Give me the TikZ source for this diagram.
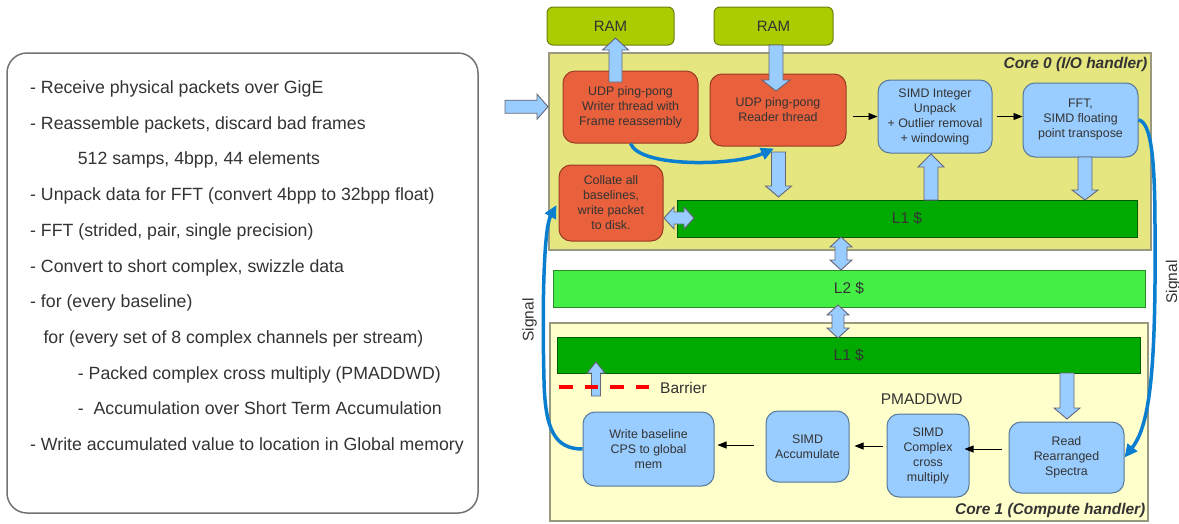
\documentclass[tikz,border=0pt]{standalone}
\usepackage{fontspec}
\setmainfont{Liberation Sans}
\usetikzlibrary{arrows.meta,calc}
\definecolor{txt}{HTML}{333333}
\definecolor{ramfill}{HTML}{AACC00}
\definecolor{ramdraw}{HTML}{6E7F10}
\definecolor{corezero}{HTML}{E6E680}
\definecolor{coreone}{HTML}{FFFFCC}
\definecolor{coredraw}{HTML}{999980}
\definecolor{orng}{HTML}{E8603C}
\definecolor{orngd}{HTML}{9A3A22}
\definecolor{lblue}{HTML}{99CCFF}
\definecolor{lblued}{HTML}{557799}
\definecolor{lone}{HTML}{00AA00}
\definecolor{loned}{HTML}{005A00}
\definecolor{ltwo}{HTML}{44EE44}
\definecolor{ltwod}{HTML}{2A8A2A}
\definecolor{sigblue}{HTML}{0A7FD0}
\definecolor{blkdraw}{HTML}{666677}
\newcommand\barrow[6]{\draw[blk,shift={#1},rotate=#2] (0,-#4) -- ({#3-#6},-#4) -- ({#3-#6},-#5) -- (#3,0) -- ({#3-#6},#5) -- ({#3-#6},#4) -- (0,#4) -- cycle;}
\newcommand\dbarrow[3]{\draw[blk,shift={#1},rotate=#2] (0,0) -- (10,-11) -- (10,-6) -- ({#3-10},-6) -- ({#3-10},-11) -- (#3,0) -- ({#3-10},11) -- ({#3-10},6) -- (10,6) -- (10,11) -- cycle;}
\begin{document}
\begin{tikzpicture}[x=1pt,y=-1pt,
  every node/.style={text=txt, inner sep=0pt},
  rect/.style={draw, line width=1pt},
  box/.style={rect, rounded corners=12pt, align=center, font=\fontsize{12.4}{15}\selectfont},
  obox/.style={box, fill=orng, draw=orngd},
  bbox/.style={box, fill=lblue, draw=lblued},
  ram/.style={rect, fill=ramfill, draw=ramdraw, rounded corners=6pt, font=\fontsize{15}{18}\selectfont},
  cache/.style={rect, font=\fontsize{15.5}{18}\selectfont},
  core/.style={rect, draw=coredraw, line width=1.2pt},
  corelbl/.style={font=\fontsize{15.5}{18}\selectfont\bfseries\itshape, anchor=east},
  lbl/.style={font=\fontsize{15.5}{18}\selectfont},
  ptxt/.style={font=\fontsize{17.7}{20}\selectfont, anchor=base west},
  blk/.style={draw=blkdraw, fill=lblue, line width=0.9pt, line join=miter},
  tarr/.style={draw=black, line width=0.8pt, -{Triangle[length=9pt,width=7pt]}},
  sig/.style={draw=sigblue, line width=3.5pt, -{Triangle[length=13pt,width=12pt]}}
]
\useasboundingbox (0,0) rectangle (1179,523);
\fill[white] (0,0) rectangle (1179,523);

% left panel
\node[draw=black!55, line width=1.5pt, rounded corners=20pt, minimum width=471pt, minimum height=460pt] (panel) at (242.5,283) {};
\node[ptxt] (t1) at (30,93.3) {- Receive physical packets over GigE};
\node[ptxt] (t2) at (30,129.0) {- Reassemble packets, discard bad frames};
\node[ptxt] (t3) at (77.7,164.8) {512 samps, 4bpp, 44 elements};
\node[ptxt] (t4) at (30,200.5) {- Unpack data for FFT (convert 4bpp to 32bpp float)};
\node[ptxt] (t5) at (30,236.2) {- FFT (strided, pair, single precision)};
\node[ptxt] (t6) at (30,272.0) {- Convert to short complex, swizzle data};
\node[ptxt] (t7) at (30,307.7) {- for (every baseline)};
\node[ptxt] (t8) at (43.3,343.4) {for (every set of 8 complex channels per stream)};
\node[ptxt] (t9) at (77.7,379.1) {- Packed complex cross multiply (PMADDWD)};
\node[ptxt] (t10) at (77.7,414.9) {-\ \ Accumulation over Short Term Accumulation};
\node[ptxt] (t11) at (30,450.6) {- Write accumulated value to location in Global memory};

% RAM
\node[ram, minimum width=127pt, minimum height=38pt] (ram1) at (610.5,26) {RAM};
\node[ram, minimum width=119pt, minimum height=38pt] (ram2) at (773.5,26) {RAM};

% cores
\node[core, fill=corezero, minimum width=602pt, minimum height=197pt] (core0) at (850,151.5) {};
\node[corelbl] (c0lbl) at ($(core0.north east)+(-4,12)$) {Core 0 (I/O handler)};
\node[cache, fill=ltwo, draw=ltwod, minimum width=592pt, minimum height=37pt] (l2) at (849,288.5) {L2 \$};
\node[core, fill=coreone, minimum width=598pt, minimum height=198pt] (core1) at (849,422) {};
\node[corelbl] (c1lbl) at ($(core1.south east)+(-3,-11)$) {Core 1 (Compute handler)};

% core 0 contents
\node[obox, minimum width=135pt, minimum height=72pt] (writer) at (630.5,107) {UDP ping-pong\\Writer thread with\\Frame reassembly};
\node[obox, minimum width=136pt, minimum height=72pt] (reader) at (778,110) {UDP ping-pong\\Reader thread};
\node[bbox, minimum width=114pt, minimum height=73pt] (simdint) at (935,116.5) {SIMD Integer\\Unpack\\+ Outlier removal\\+ windowing};
\node[bbox, minimum width=115pt, minimum height=74pt] (fft) at (1080.5,120) {FFT,\\SIMD floating\\point transpose};
\node[obox, minimum width=104pt, minimum height=76pt] (collate) at (611,203) {Collate all\\baselines,\\write packet\\to disk.};
\node[cache, fill=lone, draw=loned, minimum width=460pt, minimum height=37pt] (l1a) at (907,218.5) {L1 \$};

% core 1 contents
\node[cache, fill=lone, draw=loned, minimum width=582.5pt, minimum height=36pt] (l1b) at (848.75,355) {L1 \$};
\node[bbox, minimum width=131pt, minimum height=74pt] (write) at (648.5,449) {Write baseline\\CPS to global\\mem};
\node[bbox, minimum width=83pt, minimum height=71pt] (accum) at (807.5,446.5) {SIMD\\Accumulate};
\node[bbox, minimum width=82pt, minimum height=83pt] (complex) at (928,455.5) {SIMD\\Complex\\cross\\multiply};
\node[bbox, minimum width=115pt, minimum height=71pt] (read) at (1066.5,457.5) {Read\\Rearranged\\Spectra};
\node[lbl] (pmad) at (921.7,399) {PMADDWD};
\node[lbl, anchor=west] (barrier) at (660,388) {Barrier};

% block arrows
\barrow{(505,106.7)}{0}{43}{6.5}{12.5}{11}
\barrow{(615.5,82)}{90}{44}{6.5}{13}{12}
\barrow{(776,45)}{-90}{46}{7}{14}{11}
\barrow{(778.5,152)}{-90}{45}{7}{13}{11}
\barrow{(931,200)}{90}{46}{7}{13}{13}
\barrow{(1085,157)}{-90}{43}{7}{13}{10}
\dbarrow{(664,218)}{0}{30}
\dbarrow{(841,237)}{-90}{33}
\dbarrow{(838,305)}{-90}{33}
\barrow{(1067,373)}{-90}{46}{7}{13}{11}
\barrow{(596,396)}{90}{34}{4.5}{9}{11}

% barrier line
\draw[red, line width=4pt, dash pattern=on 13.5pt off 12pt] (559,387) -- (650,387);

% thin arrows
\draw[tarr] ($(reader.east |- simdint.west)+(6,0)$) -- (simdint.west);
\draw[tarr] ($(simdint.east)+(4,0)$) -- (fft.west |- simdint.east);
\draw[tarr] ($(read.west |- 0,449)+(-7,0)$) -- ($(complex.east |- 0,449)+(-5,0)$);
\draw[tarr] ($(complex.west |- 0,446)+(-4,0)$) -- ($(accum.east |- 0,446)+(5,0)$);
\draw[tarr] ($(accum.west |- 0,445)+(-12,0)$) -- ($(write.east |- 0,445)+(3,0)$);

% blue signal curves
\draw[sig] (writer.south) .. controls (640,168) and (735,166) .. ($(reader.south)+(-4,2)$);
\draw[sig] (fft.east) .. controls (1152,122) and (1155,165) .. (1155,230) .. controls (1156,370) and (1150,425) .. (read.east);
\draw[sig] (write.west) .. controls (555,449) and (545,430) .. (544,380) .. controls (542,300) and (544,228) .. ($(collate.west)+(-2,2)$);
\node[lbl, rotate=90] (sigR) at (1173,282) {Signal};
\node[lbl, rotate=90] (sigL) at (529.6,320) {Signal};
\end{tikzpicture}
\end{document}
